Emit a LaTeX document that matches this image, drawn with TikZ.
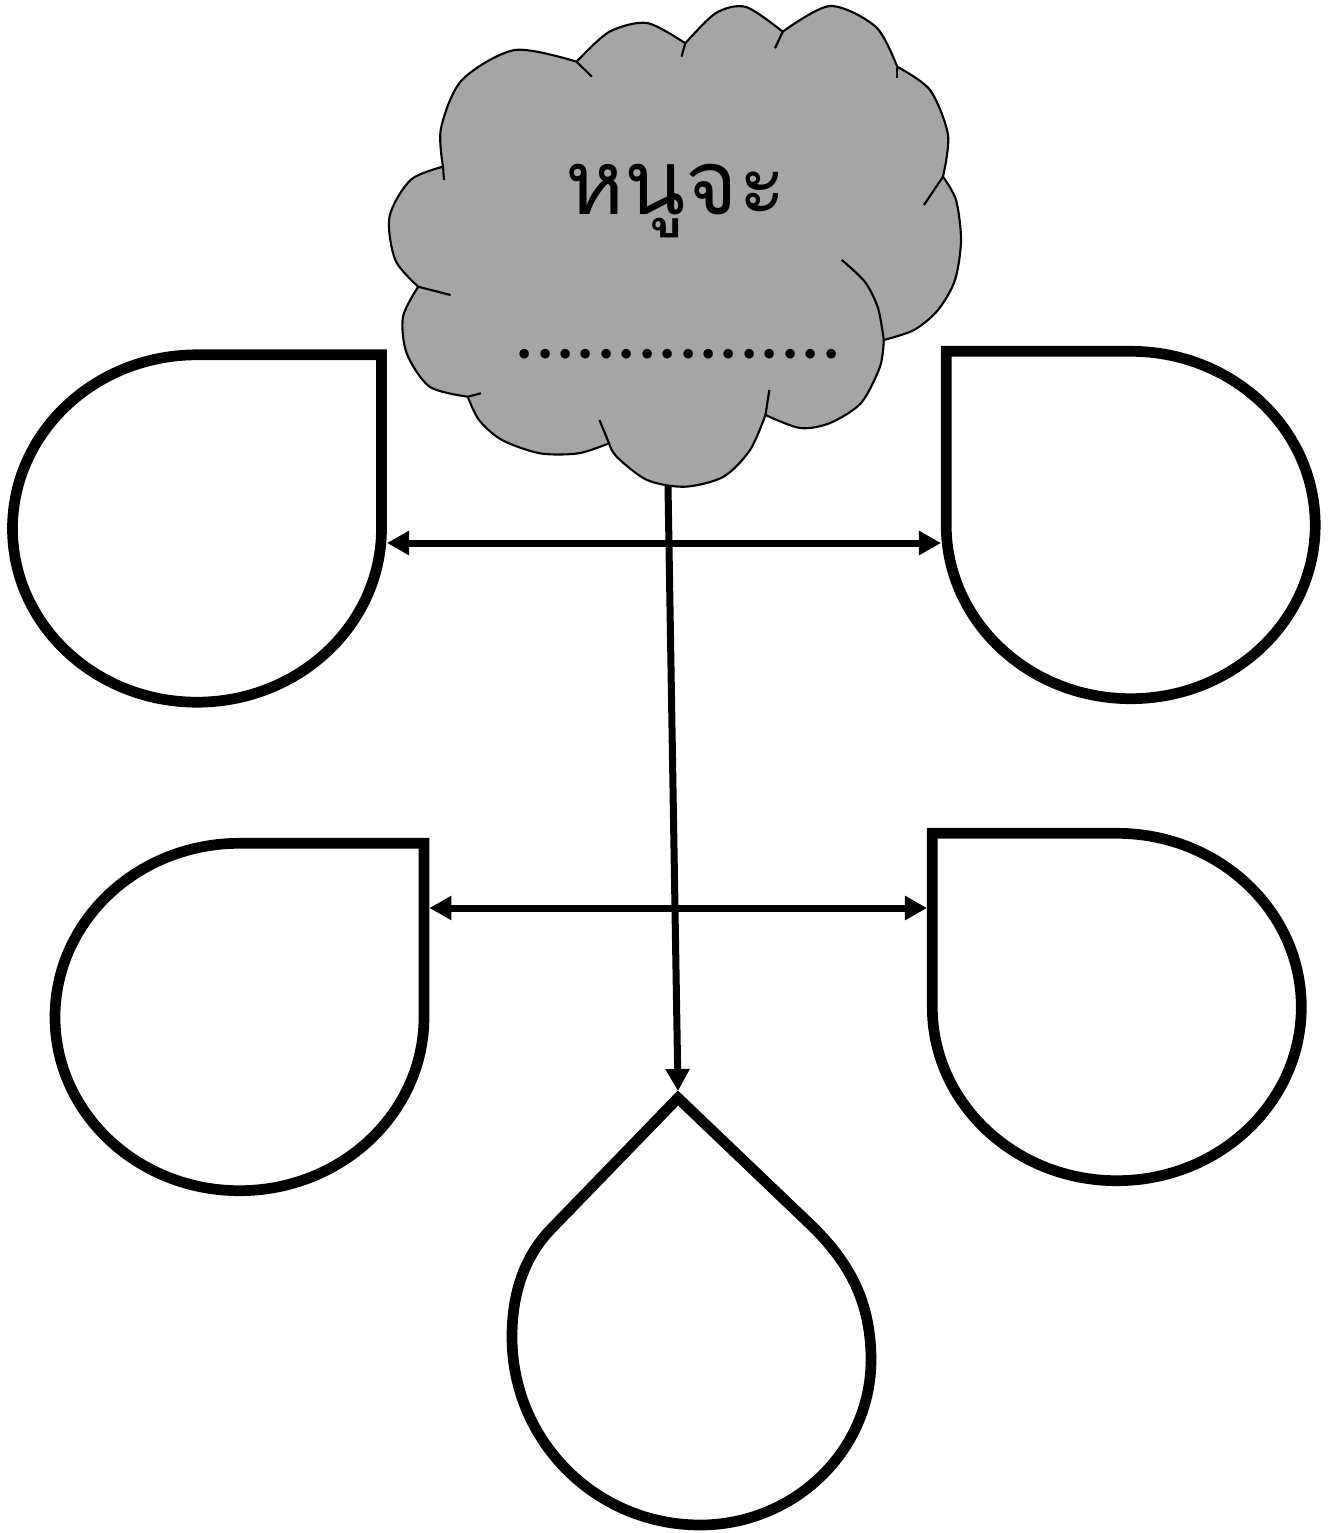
\documentclass[tikz,border=0pt]{standalone}
\usepackage{fontspec}
\newfontfamily\thaifont[Script=Thai]{Loma}
\newfontfamily\dotfont[LetterSpace=5.4]{Poppins}
\usetikzlibrary{arrows.meta}
\definecolor{cloudgray}{HTML}{A5A5A5}
\begin{document}
\begin{tikzpicture}[x=0.01cm,y=-0.01cm,
  drop/.style={line width=0.107cm, draw=black, fill=white, miter limit=10},
  conn/.style={line width=0.07cm, draw=black},
  cloudshape/.style={fill=cloudgray, draw=black, line width=0.6pt},
  cloudline/.style={draw=black, line width=0.6pt},
  >={Triangle[length=0.22cm,width=0.23cm]}]
\useasboundingbox (0,0) rectangle (1333,1533);

% teardrops
\draw[drop] (381.5,528.5) arc[start angle=0,end angle=270,x radius=184.5,y radius=173.7] -- (381.5,354.8) -- cycle;
\draw[drop] (946.2,525) arc[start angle=180,end angle=-90,x radius=184.5,y radius=173.7] -- (946.2,351.3) -- cycle;
\draw[drop] (424,1017) arc[start angle=0,end angle=270,x radius=184.5,y radius=173.7] -- (424,843.3) -- cycle;
\draw[drop] (932.3,1007) arc[start angle=180,end angle=-90,x radius=184.5,y radius=173.7] -- (932.3,833.3) -- cycle;
\draw[drop] (678,1098) -- (553,1227) .. controls (525,1255) and (512,1292) .. (512,1337)
  .. controls (512,1441) and (596,1525) .. (700,1525)
  .. controls (794,1525) and (871,1451) .. (871,1360)
  .. controls (871,1300) and (848,1262) .. (813,1227) -- cycle;

% connector end points
\coordinate (tlR) at (387,543);
\coordinate (trL) at (941,543);
\coordinate (blR) at (429.4,908);
\coordinate (brL) at (927,908);
\coordinate (cloudB) at (668,486);
\coordinate (botTip) at (678,1091);

\draw[conn,<->] (tlR) -- (trL);
\draw[conn,<->] (blR) -- (brL);
\draw[conn,->] (cloudB) -- (botTip);

% cloud
\path[cloudshape]
  plot[smooth] coordinates {(443,166.7) (441,128) (462,80) (515,50) (576.6,61.7)}
  -- plot[smooth] coordinates {(576.6,61.7) (609,32) (647,23) (685.3,43.3)}
  -- plot[smooth] coordinates {(685.3,43.3) (716,13) (746,7) (782.7,31.7)}
  -- plot[smooth] coordinates {(782.7,31.7) (830,6) (876,27) (897.2,66.7)}
  -- plot[smooth] coordinates {(897.2,66.7) (930,90) (948,135) (943,176.7)}
  -- plot[smooth] coordinates {(943,176.7) (956,200) (961,240) (955,280) (938,310) (914,330) (883.8,340)}
  -- plot[smooth] coordinates {(883.8,340) (880,366.7) (861,403) (830,423) (800,428) (765.5,415)}
  -- plot[smooth] coordinates {(765.5,415) (750,450) (723.5,476.7) (685,486.7) (647,480) (616.6,456.7) (609,443.3)}
  -- plot[smooth] coordinates {(609,443.3) (578.5,453.3) (540,453.3) (502,440) (479,420) (467.8,396.7)}
  -- plot[smooth] coordinates {(467.8,396.7) (429.6,386.7) (406.7,353.3) (403,316.7) (418.2,286.7)}
  -- plot[smooth] coordinates {(418.2,286.7) (395.3,260) (389.5,216.7) (410.5,180) (443,166.7)}
  -- cycle;
\draw[cloudline] (576.6,61.7) -- (591.8,76.7);
\draw[cloudline] (685.3,43.3) -- (681.5,56.7);
\draw[cloudline] (782.7,31.7) -- (775,48.3);
\draw[cloudline] (897.2,66.7) -- (897.2,78.3);
\draw[cloudline] (943,176.7) -- (923.9,205);
\draw[cloudline] plot[smooth] coordinates {(841.8,260) (865,282) (878,308) (883.8,340)};
\draw[cloudline] (765.5,415) -- (769.3,390);
\draw[cloudline] (609,443.3) -- (599.5,420);
\draw[cloudline] (467.8,396.7) -- (481,393.3);
\draw[cloudline] (418.2,286.7) -- (450.6,295);
\draw[cloudline] (443,166.7) -- (444,180);

\node[anchor=base, inner sep=0pt, font=\thaifont\fontsize{25.5}{30}\selectfont] (title) at (676,214) {หนูจะ};
\node[anchor=base, inner sep=0pt, font=\dotfont\fontsize{22}{26}\selectfont] (dots) at (678,358) {................};
\end{tikzpicture}
\end{document}
